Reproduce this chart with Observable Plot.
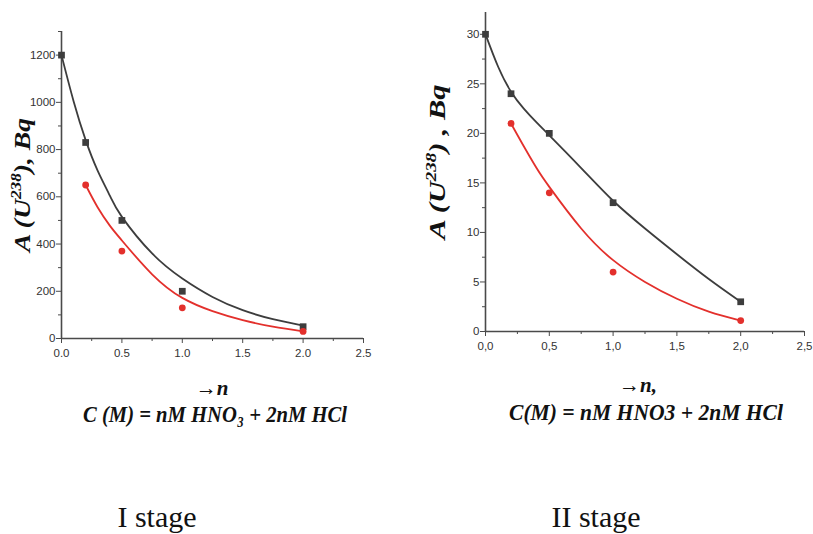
<!DOCTYPE html>
<html>
<head>
<meta charset="utf-8">
<script src="https://cdn.jsdelivr.net/npm/d3@7"></script>
<script src="https://cdn.jsdelivr.net/npm/@observablehq/plot@0.6"></script>
<style>
  html, body { margin: 0; padding: 0; background: #fff; }
  #wrap { position: relative; width: 813px; height: 534px; overflow: hidden; }
  .panel { position: absolute; top: 0; }
  #overlay { position: absolute; left: 0; top: 0; pointer-events: none; }
</style>
</head>
<body>
<div id="wrap">
  <div id="p1" class="panel" style="left:0px"></div>
  <div id="p2" class="panel" style="left:410px"></div>
  <svg id="overlay" width="813" height="534">
    <g font-family="'Liberation Serif','Times New Roman',serif" font-weight="bold" font-style="italic" fill="#111">
      <text transform="translate(30,185) rotate(-90)" text-anchor="middle" font-size="24" textLength="134" lengthAdjust="spacingAndGlyphs">A (U<tspan dy="-9" font-size="15">238</tspan><tspan dy="9">), Bq</tspan></text>
      <text transform="translate(445,162) rotate(-90)" text-anchor="middle" font-size="24" textLength="155" lengthAdjust="spacingAndGlyphs">A (U<tspan dy="-9" font-size="15">238</tspan><tspan dy="9">) , Bq</tspan></text>
      <text x="212" y="395" text-anchor="middle" font-size="21">→n</text>
      <text x="215" y="422" text-anchor="middle" font-size="24" textLength="264" lengthAdjust="spacingAndGlyphs">C (M) = nM HNO₃ + 2nM HCl</text>
      <text x="638" y="392" text-anchor="middle" font-size="21">→n,</text>
      <text x="646" y="420" text-anchor="middle" font-size="24" textLength="274" lengthAdjust="spacingAndGlyphs">C(M) = nM HNO3 + 2nM HCl</text>
    </g>
    <g font-family="'Liberation Serif','Times New Roman',serif" font-size="30" fill="#111">
      <text x="157" y="527" text-anchor="middle">I stage</text>
      <text x="596" y="527" text-anchor="middle">II stage</text>
    </g>
  </svg>
</div>
<script>
// ---------- data ----------
const nPoints = [0, 0.2, 0.5, 1.0, 2.0];
const nPointsRed = [0.2, 0.5, 1.0, 2.0];
const nFit = [0, 0.1, 0.2, 0.3, 0.4, 0.5, 0.75, 1.0, 1.25, 1.5, 1.75, 2.0];
const nFitRed = [0.2, 0.3, 0.4, 0.5, 0.75, 1.0, 1.25, 1.5, 1.75, 2.0];

// Stage I
const blackI = [1200, 830, 500, 200, 50];
const redI = [650, 370, 130, 30];
const fitBlackI = [1200, 1005, 840, 710, 605, 515, 360, 254, 176, 120, 82, 55];
const fitRedI = [650, 555, 478, 415, 272, 172, 116, 78, 50, 30];

// Stage II
const blackII = [30, 24, 20, 13, 3];
const redII = [21, 14, 6, 1.1];
const fitBlackII = [30, 26.7, 24.2, 22.5, 21.1, 19.8, 16.5, 13.2, 10.4, 7.8, 5.3, 3.0];
const fitRedII = [21, 18.7, 16.5, 14.6, 10.4, 7.2, 5.0, 3.3, 2.0, 1.1];

// ticks
const xTicks = [0, 0.5, 1.0, 1.5, 2.0, 2.5];
const xMinor = [0.25, 0.75, 1.25, 1.75, 2.25];
const yTicksI = [0, 200, 400, 600, 800, 1000, 1200];
const yMinorI = [100, 300, 500, 700, 900, 1100, 1300];
const yTicksII = [0, 5, 10, 15, 20, 25, 30];
const yMinorII = [2.5, 7.5, 12.5, 17.5, 22.5, 27.5];

const BLACK = "#3d3d3d";
const RED = "#e3302c";
const AXIS = "#4a4a4a";

function zip(xs, ys) { return xs.map((x, i) => ({x, y: ys[i]})); }

function panel({width, height, mt, mb, ml, mr, yDomain, yTicks, yMinor, fmt, black, red, fitB, fitR}) {
  return Plot.plot({
    width, height,
    marginTop: mt, marginBottom: mb, marginLeft: ml, marginRight: mr,
    style: {fontFamily: "'Liberation Sans', Arial, sans-serif", fontSize: "11.5px", color: "#333", overflow: "visible", background: "transparent"},
    x: {domain: [0, 2.5]},
    y: {domain: yDomain},
    marks: [
      Plot.ruleX([0], {stroke: AXIS, strokeWidth: 1.6}),
      Plot.ruleY([0], {stroke: AXIS, strokeWidth: 1.6}),
      Plot.axisX(xTicks, {tickSize: 5, tickPadding: 5, tickFormat: fmt, stroke: AXIS, label: null}),
      Plot.axisX(xMinor, {tickSize: 3, text: null, stroke: AXIS, label: null}),
      Plot.axisY(yTicks, {tickSize: 5, tickPadding: 1, tickFormat: d => String(d), stroke: AXIS, label: null}),
      Plot.axisY(yMinor, {tickSize: 3, text: null, stroke: AXIS, label: null}),
      Plot.line(zip(nFit, fitB), {x: "x", y: "y", stroke: BLACK, strokeWidth: 1.8, curve: "natural"}),
      Plot.line(zip(nFitRed, fitR), {x: "x", y: "y", stroke: RED, strokeWidth: 1.8, curve: "natural"}),
      Plot.dot(zip(nPoints, black), {x: "x", y: "y", symbol: "square", r: 3.8, fill: BLACK, stroke: null}),
      Plot.dot(zip(nPointsRed, red), {x: "x", y: "y", symbol: "circle", r: 3.4, fill: RED, stroke: null})
    ]
  });
}

document.getElementById("p1").append(panel({
  width: 380, height: 370, mt: 31, mb: 32, ml: 61, mr: 17,
  yDomain: [0, 1300], yTicks: yTicksI, yMinor: yMinorI,
  fmt: d => d.toFixed(1),
  black: blackI, red: redI, fitB: fitBlackI, fitR: fitRedI
}));

document.getElementById("p2").append(panel({
  width: 403, height: 360, mt: 12, mb: 29, ml: 75, mr: 9,
  yDomain: [0, 32.2], yTicks: yTicksII, yMinor: yMinorII,
  fmt: d => d.toFixed(1).replace(".", ","),
  black: blackII, red: redII, fitB: fitBlackII, fitR: fitRedII
}));
</script>
</body>
</html>
